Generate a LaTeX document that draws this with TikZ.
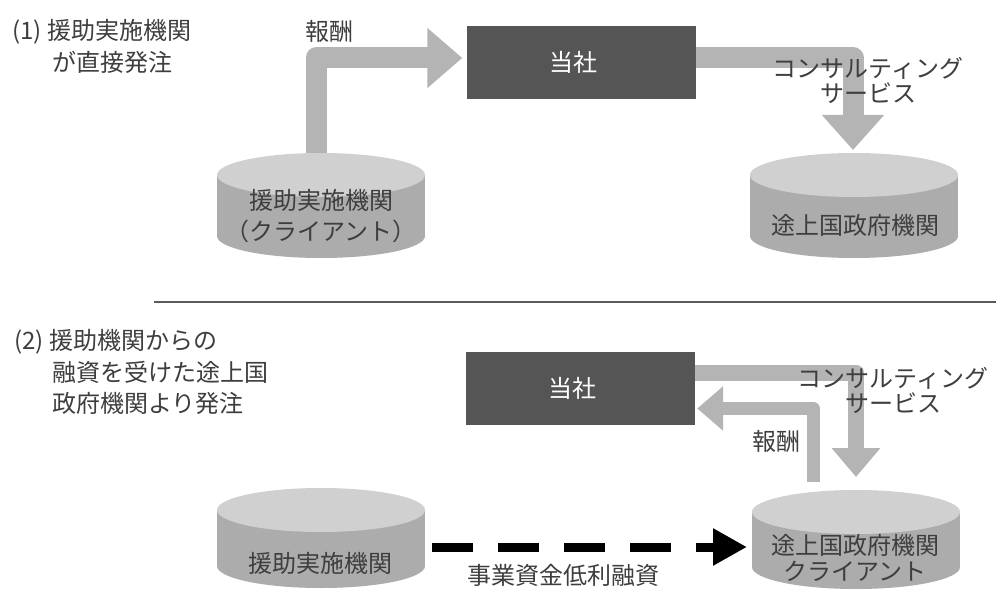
\documentclass[tikz,border=0pt]{standalone}
\usepackage{fontspec}
\newfontfamily\jpfont{Noto Sans CJK JP}
\usetikzlibrary{arrows.meta,calc}
\definecolor{boxgray}{RGB}{85,85,85}
\definecolor{arrowgray}{RGB}{180,180,180}
\definecolor{cyltopgray}{RGB}{208,208,208}
\definecolor{cylsidegray}{RGB}{172,172,172}
\definecolor{textgray}{RGB}{62,62,62}
\definecolor{rulegray}{RGB}{90,90,90}
\newcommand\drawcylinder[5]{% cx, ytop-centre, ybottom-centre, name, height
  \fill[cylsidegray] ({#1-104},#2) rectangle ({#1+104},#3);
  \fill[cylsidegray] (#1,#3) ellipse [x radius=104, y radius=22];
  \fill[cyltopgray] (#1,#2) ellipse [x radius=104, y radius=22];
  \node[cylnode, minimum height=#5pt] (#4) at (#1,{(#2+#3)/2}) {};
}
\begin{document}
\begin{tikzpicture}[x=1pt,y=-1pt,
  txt/.style={font=\jpfont\fontsize{24}{30}\selectfont, text=textgray, inner sep=0pt, align=center},
  box/.style={fill=boxgray, minimum width=229pt, minimum height=73pt, inner sep=0pt,
              text=white, font=\jpfont\fontsize{24}{28}\selectfont},
  cylnode/.style={minimum width=208pt, inner sep=0pt},
  fatarrow/.style={draw=arrowgray, line join=round},
]
\useasboundingbox (0,0) rectangle (996,591);
\fill[white] (0,0) rectangle (996,591);

% ---------- section 1 ----------
\node[txt, anchor=west] (t1a) at (12,32) {(1) 援助実施機関};
\node[txt, anchor=west] (t1b) at (52,62) {が直接発注};

\node[box] (b1) at (581,62.5) {\hspace*{-16pt}当社};

\coordinate (a1s) at (316,153);
\draw[fatarrow, line width=21pt, shorten >=4pt,
      -{Triangle[length=35pt,width=58pt]}] (a1s) |- ([yshift=4.5pt]b1.west);
\draw[fatarrow, line width=21pt,
      -{Triangle[length=35pt,width=60pt]}] ([yshift=4.5pt]b1.east) -| (853,150);

\drawcylinder{321}{175}{236}{cA}{105}
\drawcylinder{854}{175}{236}{cB}{105}

\node[txt] (r1) at (329,31) {報酬};
\node[txt, font=\jpfont\fontsize{24}{25}\selectfont] (s1) at (868,80) {コンサルティング\\サービス};
\node[txt, font=\jpfont\fontsize{24}{31}\selectfont] (l1) at (321,216) {援助実施機関\\（クライアント）};
\node[txt] (l2) at (855,225) {途上国政府機関};

% ---------- separator ----------
\coordinate (sepL) at (154,302);
\coordinate (sepR) at (996,302);
\draw[rulegray, line width=2.5pt] (sepL) -- (sepR);

% ---------- section 2 ----------
\node[txt, anchor=west] (t2a) at (14,342) {(2) 援助機関からの};
\node[txt, anchor=west] (t2b) at (52,372) {融資を受けた途上国};
\node[txt, anchor=west] (t2c) at (52,403) {政府機関より発注};

\node[box] (b2) at (580.5,388) {\hspace*{-16pt}当社};

\draw[fatarrow, line width=16pt,
      -{Triangle[length=29pt,width=47pt]}] ([yshift=15.5pt]b2.east) -| (856,477);
\coordinate (a4s) at (813.5,482);
\draw[fatarrow, line width=13pt, shorten >=2pt,
      -{Triangle[length=26pt,width=43pt]}] (a4s) |- ([yshift=-20.5pt]b2.east);

\drawcylinder{321}{510}{566}{cC}{100}
\drawcylinder{856}{512}{567}{cD}{100}

\coordinate (d1) at (432,547);
\coordinate (d2) at (747,547);
\draw[black, line width=9pt, dash pattern=on 41pt off 25pt,
      -{Triangle[length=34pt,width=35pt]}] (d1) -- (d2);

\node[txt] (r2) at (776,441) {報酬};
\node[txt, font=\jpfont\fontsize{24}{25}\selectfont] (s2) at (893,390) {コンサルティング\\サービス};
\node[txt] (l3) at (320,563) {援助実施機関};
\node[txt, font=\jpfont\fontsize{24}{26}\selectfont] (l4) at (855,558) {途上国政府機関\\クライアント};
\node[txt] (f1) at (563,575) {事業資金低利融資};
\end{tikzpicture}
\end{document}
